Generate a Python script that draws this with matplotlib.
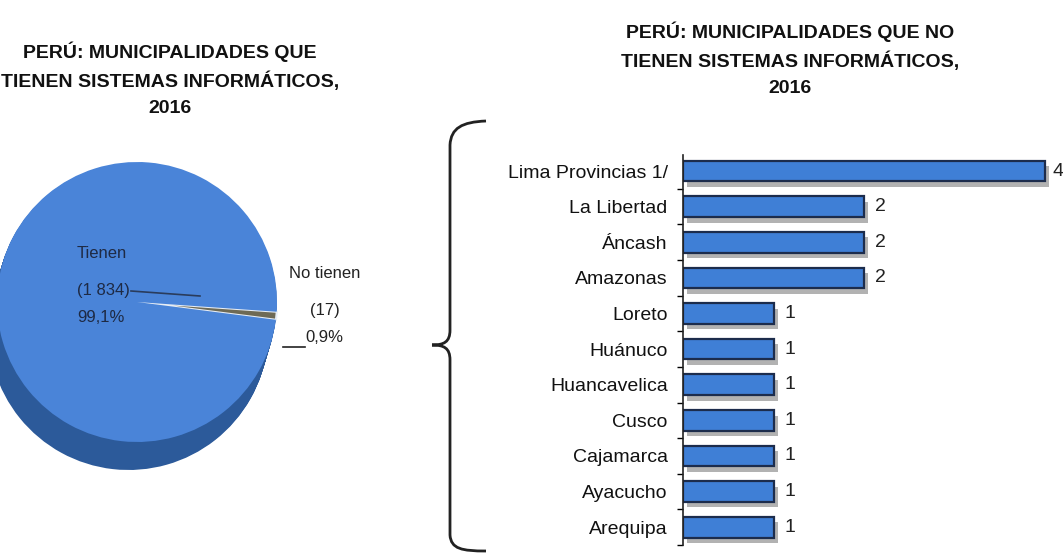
import matplotlib
matplotlib.use("Agg")
import matplotlib.pyplot as plt
import matplotlib.patheffects as pe
from matplotlib.path import Path
from matplotlib.patches import PathPatch
from matplotlib.ticker import FixedLocator

# data
pie_labels = ["No tienen", "Tienen"]
pie_counts = [17, 1834]
pie_pcts = ["0,9%", "99,1%"]

regions = ["Lima Provincias 1/", "La Libertad", "Áncash", "Amazonas", "Loreto",
           "Huánuco", "Huancavelica", "Cusco", "Cajamarca", "Ayacucho", "Arequipa"]
sin_sistemas = [4, 2, 2, 2, 1, 1, 1, 1, 1, 1, 1]

title_left = "PERÚ: MUNICIPALIDADES QUE\nTIENEN SISTEMAS INFORMÁTICOS,\n2016"
title_right = "PERÚ: MUNICIPALIDADES QUE NO\nTIENEN SISTEMAS INFORMÁTICOS,\n2016"

W, H = 1063, 557
FONT = ["Liberation Sans Narrow", "Liberation Sans", "DejaVu Sans"]
plt.rcParams["font.family"] = FONT

fig = plt.figure(figsize=(W / 100, H / 100), dpi=100)
fig.patch.set_facecolor("white")

# overlay in pixel coordinates (y up)
ov = fig.add_axes([0, 0, 1, 1])

# --- 3D-ish pie ---
cx, cy, r = 137, H - 302, 140
depth = 28
start = -7.3
for k in range(depth, 0, -1):
    ov.pie(pie_counts, radius=r, center=(cx - 0.3 * k, cy - k), startangle=start,
           explode=[0.06, 0], colors=["#46443a", "#2c5a9a"],
           wedgeprops=dict(linewidth=0), frame=True)
wedges, _ = ov.pie(pie_counts, radius=r, center=(cx, cy), startangle=start,
                   explode=[0.06, 0], colors=["#6e6a55", "#4a84d8"],
                   wedgeprops=dict(linewidth=0), frame=True)
wedges[0].set_edgecolor("#e8eef5")
wedges[0].set_linewidth(1.5)
ov.set_xlim(0, W)
ov.set_ylim(0, H)
ov.set_aspect("auto")
ov.axis("off")

txt_col = "#1e2a44"
ov.text(77, H - 253, pie_labels[1], fontsize=12, color=txt_col, va="center")
ov.text(77, H - 291, "(1 834)", fontsize=12, color=txt_col, va="center")
ov.text(77, H - 318, pie_pcts[1], fontsize=12, color=txt_col, va="center")
ov.plot([131, 200], [H - 291, H - 296], color="#2a3c5c", lw=1.2)

ov.text(325, H - 273, pie_labels[0], fontsize=12, color="#222222", ha="center", va="center")
ov.text(325, H - 310, "(%d)" % pie_counts[0], fontsize=12, color="#222222", ha="center", va="center")
ov.text(305, H - 337, pie_pcts[0], fontsize=12, color="#222222", ha="left", va="center")
ov.plot([283, 305], [H - 347, H - 347], color="#222222", lw=1.2)

ov.text(170, H - 79, title_left, fontsize=14, fontweight="bold", ha="center",
        va="center", linespacing=1.65, color="#111111")
ov.text(790, H - 59, title_right, fontsize=14, fontweight="bold", ha="center",
        va="center", linespacing=1.65, color="#111111")

# --- brace ---
verts = [(486, H - 121), (462, H - 122), (451, H - 128), (450, H - 145),
         (450, H - 330),
         (450, H - 342), (444, H - 345), (432, H - 345),
         (444, H - 345), (450, H - 348), (450, H - 360),
         (450, H - 535),
         (451, H - 549), (462, H - 551), (486, H - 551)]
codes = [Path.MOVETO, Path.CURVE4, Path.CURVE4, Path.CURVE4,
         Path.LINETO,
         Path.CURVE4, Path.CURVE4, Path.CURVE4,
         Path.CURVE4, Path.CURVE4, Path.CURVE4,
         Path.LINETO,
         Path.CURVE4, Path.CURVE4, Path.CURVE4]
ov.add_patch(PathPatch(Path(verts, codes), facecolor="none", edgecolor="#222222", lw=2))

# --- bar chart ---
left, right, top, bottom = 683, W, 155, 545
ax = fig.add_axes([left / W, (H - bottom) / H, (right - left) / W, (bottom - top) / H])
ypos = list(range(len(regions)))
bars = ax.barh(ypos, sin_sistemas, height=0.58, color="#3f7fd6",
               edgecolor="#1c2c4c", linewidth=1.6)
for b in bars:
    b.set_path_effects([pe.SimplePatchShadow(offset=(3, -4), shadow_rgbFace="#555555", alpha=0.45),
                        pe.Normal()])
for y, v in zip(ypos, sin_sistemas):
    off = 0.08 if v == max(sin_sistemas) else 0.12
    ax.text(v + off, y, str(v), va="center", ha="left", fontsize=14, color="#222222")

ax.set_xlim(0, 4 * (right - left) / 362)
ax.set_ylim(10.5, -0.45)
ax.set_yticks(ypos)
ax.set_yticklabels(regions, fontsize=14, color="#111111")
ax.yaxis.set_minor_locator(FixedLocator([i - 0.5 for i in range(len(regions) + 1)]))
ax.tick_params(axis="y", which="major", length=0, pad=11)
ax.tick_params(axis="y", which="minor", length=4, width=1, direction="out")
ax.set_xticks([])
for s in ["top", "right", "bottom"]:
    ax.spines[s].set_visible(False)
ax.spines["left"].set_linewidth(1.2)
ax.spines["left"].set_color("#222222")
ax.patch.set_alpha(0)

fig.savefig("out.png", dpi=100, facecolor="white")
